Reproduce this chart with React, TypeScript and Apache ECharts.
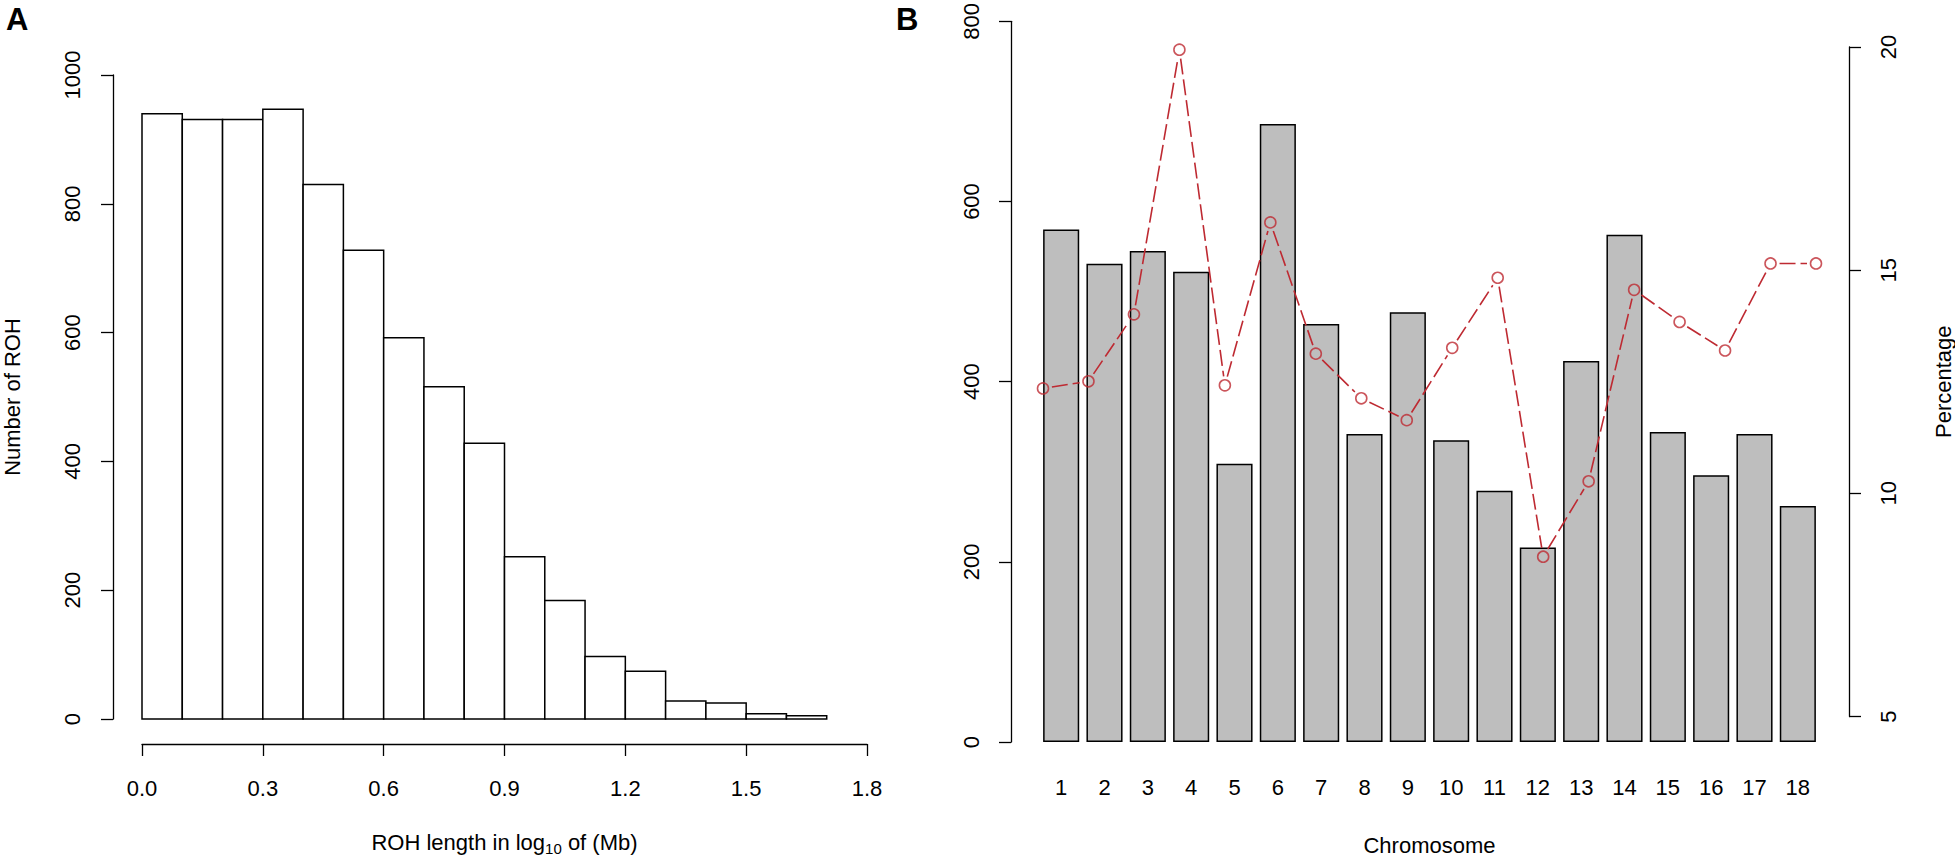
import React, { useEffect, useRef } from "react";
import * as echarts from "echarts";

// ---------- Data ----------
// Panel A: histogram of ROH length (log10 Mb), bins of 0.1
const binEdges = [0.0, 0.1, 0.2, 0.3, 0.4, 0.5, 0.6, 0.7, 0.8, 0.9, 1.0, 1.1, 1.2, 1.3, 1.4, 1.5, 1.6, 1.7];
const rohCounts = [940, 931, 931, 947, 830, 728, 592, 516, 428, 252, 184, 97, 74, 28, 25, 8, 5];
const histYTicks = { min: 0, max: 1000, interval: 200 };
const histXTicks = { min: 0, max: 1.8, interval: 0.3 };

// Panel B: ROH count per chromosome (bars) and percentage (line)
const chromosomes = ["1", "2", "3", "4", "5", "6", "7", "8", "9", "10", "11", "12", "13", "14", "15", "16", "17", "18"];
const rohPerChromosome = [569, 531, 545, 522, 309, 686, 464, 342, 477, 335, 279, 216, 423, 563, 344, 296, 342, 262];
const percentage = [12.35, 12.51, 14.01, 19.94, 12.42, 16.07, 13.13, 12.13, 11.64, 13.26, 14.83, 8.58, 10.27, 14.56, 13.84, 13.2, 15.15, 15.15];
const countTicks = { min: 0, max: 800, interval: 200 };
const pctTicks = { min: 5, max: 20, interval: 5 };

const FONT = "'Liberation Sans', Arial, Helvetica, sans-serif";
const RED = "#BE2A32";
const FS = 22;

function axisStyle() {
  return {
    axisLine: { show: true, onZero: false, lineStyle: { color: "#000", width: 1.3 } },
    axisTick: { show: true, length: 12, lineStyle: { color: "#000", width: 1.3 } },
    splitLine: { show: false },
  };
}

export default function App() {
  const ref = useRef<HTMLDivElement>(null);

  useEffect(() => {
    if (!ref.current) return;
    const chart = echarts.init(ref.current, undefined, { renderer: "svg" });

    const histData = rohCounts.map((c, i) => [binEdges[i], binEdges[i] + 0.1, c]);
    const segData = percentage.slice(0, -1).map((v, i) => [i, v, i + 1, percentage[i + 1]]);

    const option: any = {
      animation: false,
      backgroundColor: "#fff",
      textStyle: { fontFamily: FONT },
      grid: [
        { left: 141, top: 75, width: 726, height: 644 },
        { left: 1039.5, top: 20, width: 780, height: 725 },
        { left: 1043, top: 47, width: 774, height: 669.5 },
      ],
      xAxis: [
        {
          gridIndex: 0,
          type: "value",
          min: histXTicks.min,
          max: histXTicks.max,
          interval: histXTicks.interval,
          offset: 25,
          ...axisStyle(),
          axisLabel: {
            color: "#000",
            fontSize: FS,
            fontFamily: FONT,
            margin: 33,
            formatter: (v: number) => v.toFixed(1),
          },
          name: "ROH length in log{sub|10} of (Mb)",
          nameLocation: "middle",
          nameGap: 84,
          nameTextStyle: {
            color: "#000",
            fontSize: FS,
            fontFamily: FONT,
            lineHeight: 28,
            rich: {
              sub: { fontSize: 15, lineHeight: 15, verticalAlign: "bottom", color: "#000", fontFamily: FONT },
            },
          },
        },
        {
          gridIndex: 1,
          type: "category",
          data: chromosomes,
          boundaryGap: true,
          axisLine: { show: false },
          axisTick: { show: false },
          splitLine: { show: false },
          axisLabel: { color: "#000", fontSize: FS, fontFamily: FONT, margin: 34, interval: 0 },
          name: "Chromosome",
          nameLocation: "middle",
          nameGap: 92,
          nameTextStyle: { color: "#000", fontSize: FS, fontFamily: FONT },
        },
        {
          gridIndex: 2,
          type: "category",
          data: chromosomes,
          boundaryGap: false,
          show: false,
        },
      ],
      yAxis: [
        {
          gridIndex: 0,
          type: "value",
          min: histYTicks.min,
          max: histYTicks.max,
          interval: histYTicks.interval,
          offset: 29,
          ...axisStyle(),
          axisLabel: {
            color: "#000",
            fontSize: FS,
            fontFamily: FONT,
            rotate: 90,
            margin: 30,
            formatter: (v: number) => String(v),
          },
          name: "Number of ROH",
          nameLocation: "middle",
          nameRotate: 90,
          nameGap: 90,
          nameTextStyle: { color: "#000", fontSize: FS, fontFamily: FONT },
        },
        {
          gridIndex: 1,
          type: "value",
          min: countTicks.min,
          max: countTicks.max,
          interval: countTicks.interval,
          offset: 28.5,
          ...axisStyle(),
          axisLabel: {
            color: "#000",
            fontSize: FS,
            fontFamily: FONT,
            rotate: 90,
            margin: 29,
            formatter: (v: number) => String(v),
          },
        },
        {
          gridIndex: 2,
          type: "value",
          position: "right",
          min: pctTicks.min,
          max: pctTicks.max,
          interval: pctTicks.interval,
          offset: 33,
          ...axisStyle(),
          axisLabel: { color: "#000", fontSize: FS, fontFamily: FONT, rotate: 90, margin: 28 },
          name: "Percentage",
          nameLocation: "middle",
          nameRotate: 90,
          nameGap: 83,
          nameTextStyle: { color: "#000", fontSize: FS, fontFamily: FONT },
        },
      ],
      series: [
        {
          type: "custom",
          name: "ROH length histogram",
          xAxisIndex: 0,
          yAxisIndex: 0,
          data: histData,
          encode: { x: [0, 1], y: 2 },
          clip: false,
          renderItem: (_params: any, api: any) => {
            const p0 = api.coord([api.value(0), api.value(2)]);
            const p1 = api.coord([api.value(1), 0]);
            return {
              type: "rect",
              shape: { x: p0[0], y: p0[1], width: p1[0] - p0[0], height: p1[1] - p0[1] },
              style: { fill: "#fff", stroke: "#000", lineWidth: 1.5 },
            };
          },
        },
        {
          type: "bar",
          name: "Number of ROH",
          xAxisIndex: 1,
          yAxisIndex: 1,
          data: rohPerChromosome,
          barCategoryGap: "16.7%",
          itemStyle: { color: "#BEBEBE", borderColor: "#000", borderWidth: 1.5 },
        },
        {
          type: "custom",
          name: "Percentage line",
          xAxisIndex: 2,
          yAxisIndex: 2,
          data: segData,
          encode: { x: [0, 2], y: [1, 3] },
          clip: false,
          z: 5,
          renderItem: (_params: any, api: any) => {
            const a = api.coord([api.value(0), api.value(1)]);
            const b = api.coord([api.value(2), api.value(3)]);
            const dx = b[0] - a[0];
            const dy = b[1] - a[1];
            const len = Math.sqrt(dx * dx + dy * dy);
            const gap = 9;
            if (len <= 2 * gap) return null;
            const ux = dx / len;
            const uy = dy / len;
            return {
              type: "line",
              shape: { x1: a[0] + ux * gap, y1: a[1] + uy * gap, x2: b[0] - ux * gap, y2: b[1] - uy * gap },
              style: { stroke: RED, lineWidth: 1.6, lineDash: [16, 5], fill: null },
            };
          },
        },
        {
          type: "scatter",
          name: "Percentage",
          xAxisIndex: 2,
          yAxisIndex: 2,
          data: percentage,
          symbol: "circle",
          symbolSize: 11,
          z: 6,
          itemStyle: { color: "rgba(0,0,0,0)", borderColor: RED, borderWidth: 1.6 },
        },
      ],
      graphic: [
        {
          type: "text",
          left: 6,
          top: 4,
          style: { text: "A", fontSize: 31, fontWeight: "bold", fontFamily: FONT, fill: "#000" },
        },
        {
          type: "text",
          left: 896,
          top: 4,
          style: { text: "B", fontSize: 31, fontWeight: "bold", fontFamily: FONT, fill: "#000" },
        },
      ],
    };

    chart.setOption(option);
    return () => chart.dispose();
  }, []);

  return (
    <div
      ref={ref}
      style={{ position: "fixed", left: 0, top: 0, width: 1955, height: 861, background: "#fff" }}
    />
  );
}
